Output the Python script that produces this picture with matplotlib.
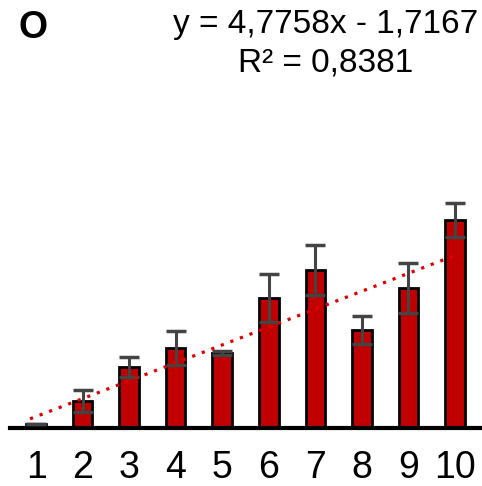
import matplotlib
matplotlib.use("Agg")
import matplotlib.pyplot as plt
import numpy as np

# Data
categories = [1, 2, 3, 4, 5, 6, 7, 8, 9, 10]
means = [1.2, 7.2, 16.3, 21.3, 20.0, 34.7, 42.1, 26.1, 37.3, 55.5]
errors = [0.0, 2.9, 2.7, 4.5, 0.5, 6.4, 6.7, 3.7, 6.7, 4.5]

# Trendline as printed on the chart
slope = 4.7758
intercept = -1.7167
eq_text = "y = 4,7758x - 1,7167"
r2_text = "R² = 0,8381"
panel_label = "O"

plt.rcParams["font.family"] = ["Liberation Sans", "DejaVu Sans"]


def main():
    fig = plt.figure(figsize=(4.82, 4.86), dpi=100)
    ax = fig.add_axes([10 / 482, 58 / 486, 472 / 482, 328 / 486])

    x = np.array(categories)
    ax.bar(x, means, width=0.42, color="#c00000", edgecolor="black", linewidth=2, zorder=2)
    ax.errorbar(x, means, yerr=errors, fmt="none", ecolor="#444444", elinewidth=2.2,
                capsize=7.5, capthick=2.5, zorder=3)

    # dotted linear trendline
    xt = np.array([categories[0] - 0.13, categories[-1] + 0.05])
    ax.plot(xt, slope * xt + intercept, color="#e00000", linestyle=(0, (1, 2.2)), linewidth=2.3, zorder=4)

    ax.set_xlim(0.44, 10.58)
    ax.set_ylim(0, 87.5)
    ax.set_xticks(categories)
    ax.set_xticklabels([str(c) for c in categories], fontsize=27)
    ax.tick_params(axis="x", length=0, pad=16)
    ax.set_yticks([])
    for side in ["left", "right", "top"]:
        ax.spines[side].set_visible(False)
    ax.spines["bottom"].set_linewidth(3)

    fig.text(33 / 482, 1 - 28 / 486, panel_label, fontsize=27, fontweight="bold", ha="center", va="center")
    fig.text(326 / 482, 1 - 44 / 486, eq_text + "\n" + r2_text, fontsize=24, ha="center", va="center",
             multialignment="center", linespacing=1.3)

    fig.savefig("out.png", dpi=100)


if __name__ == "__main__":
    main()
